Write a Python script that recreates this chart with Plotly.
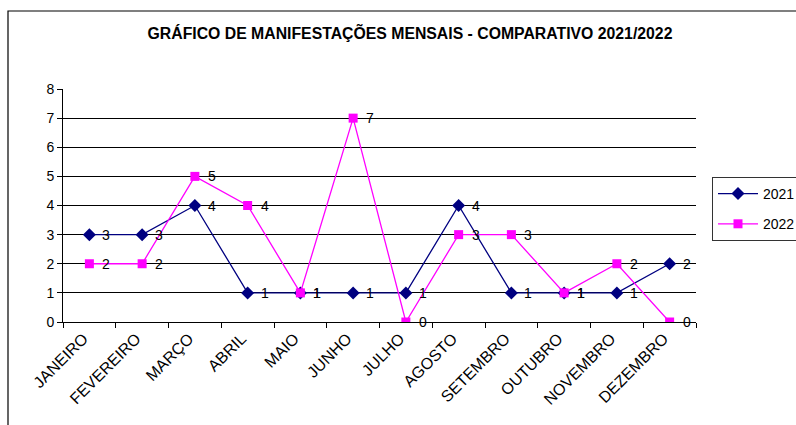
import plotly.graph_objects as go

months = ["JANEIRO", "FEVEREIRO", "MARÇO", "ABRIL", "MAIO", "JUNHO", "JULHO",
          "AGOSTO", "SETEMBRO", "OUTUBRO", "NOVEMBRO", "DEZEMBRO"]
v2021 = [3, 3, 4, 1, 1, 1, 1, 4, 1, 1, 1, 2]
v2022 = [2, 2, 5, 4, 1, 7, 0, 3, 3, 1, 2, 0]
title = "GRÁFICO DE MANIFESTAÇÕES MENSAIS - COMPARATIVO 2021/2022"

W, H = 796, 425
L, R, T, B = 63, 100, 89, 103
pw = W - L - R
ph = H - T - B

fig = go.Figure()
fig.add_trace(go.Scatter(x=months, y=v2021, name="2021", mode="lines+markers",
                         legendgroup="a",
                         line=dict(color="#000080", width=1.3),
                         marker=dict(symbol="diamond", size=10, color="#000080")))
fig.add_trace(go.Scatter(x=months, y=v2022, name="2022", mode="lines+markers",
                         legendgroup="b",
                         line=dict(color="#FF00FF", width=1.3),
                         marker=dict(symbol="square", size=9, color="#FF00FF")))

for series in (v2021, v2022):
    for m, v in zip(months, series):
        fig.add_annotation(x=m, y=v, text=str(v), showarrow=False, xanchor="left",
                           xshift=11, font=dict(size=14, color="#000000"))

def px_x(p):
    return (p - L) / pw

def px_y(p):
    return (H - B - p) / ph

fig.add_shape(type="rect", xref="paper", yref="paper",
              x0=px_x(8), x1=px_x(820), y0=px_y(11), y1=px_y(440),
              line=dict(color="#000000", width=1.2), fillcolor="rgba(0,0,0,0)", layer="below")

fig.update_layout(
    width=W, height=H,
    margin=dict(l=L, r=R, t=T, b=B, autoexpand=False),
    paper_bgcolor="white", plot_bgcolor="white",
    font=dict(family="Liberation Sans, Arial", size=14, color="#000000"),
    title=dict(text="<b>" + title + "</b>", xref="container", x=410 / W, xanchor="center",
               y=1 - 33 / H, yanchor="middle", font=dict(size=15.8)),
    showlegend=True,
    legend=dict(x=px_x(712), y=px_y(177), xanchor="left", yanchor="top",
                bordercolor="#333333", borderwidth=1, bgcolor="white",
                font=dict(size=14), itemwidth=40, tracegroupgap=9),
    xaxis=dict(type="category", tickson="boundaries", ticks="outside", ticklen=5,
               tickcolor="#000000", showline=True, linecolor="#000000", linewidth=1,
               showgrid=False, tickangle=-45, tickfont=dict(size=16),
               ticklabelshift=-6,
               range=[-0.5, 11.5], zeroline=False, automargin=False),
    yaxis=dict(range=[0, 8], dtick=1, ticks="outside", ticklen=5, tickcolor="#000000",
               showline=True, linecolor="#000000", linewidth=1,
               showgrid=True, gridcolor="#000000", gridwidth=1,
               zeroline=False, tickfont=dict(size=14), automargin=False),
)

fig.write_html("out.html", config={"displayModeBar": False},
               post_script="document.body.style.margin='0';")
